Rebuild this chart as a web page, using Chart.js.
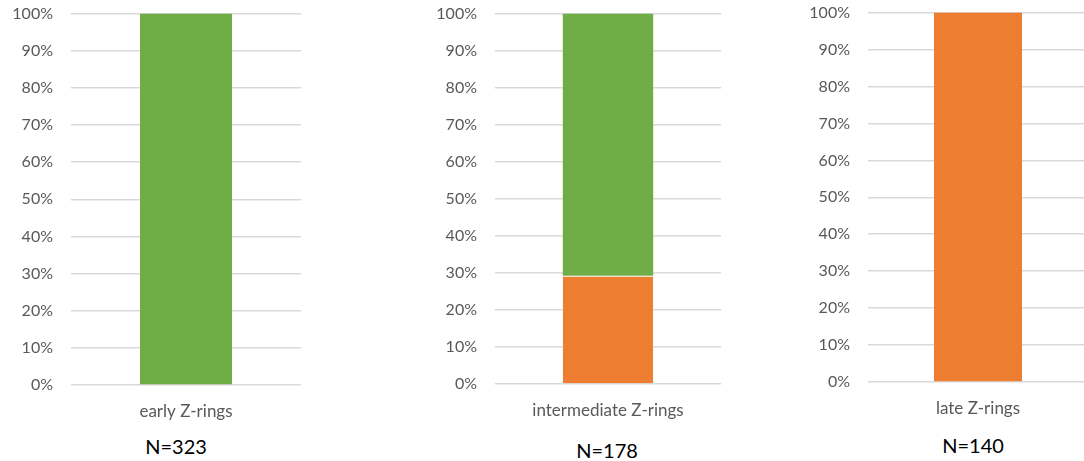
<!DOCTYPE html>
<html>
<head>
<meta charset="utf-8">
<script src="https://cdn.jsdelivr.net/npm/chart.js@4"></script>
<style>
  html, body { margin: 0; padding: 0; background: #fff; overflow: hidden; }
  body { position: relative; width: 1084px; height: 461px; }
  canvas { position: absolute; }
  .n-label {
    position: absolute;
    font-family: Lato, "Open Sans", sans-serif;
    font-size: 20px;
    color: #000;
    transform: translate(-50%, -50%);
    white-space: nowrap;
  }
</style>
</head>
<body>
<canvas id="c0" width="301" height="439" style="left:0px; top:-14px"></canvas>
<canvas id="c1" width="301" height="438" style="left:420px; top:-14px"></canvas>
<canvas id="c2" width="295" height="437" style="left:793px; top:-15px"></canvas>
<div class="n-label" id="n0" style="left:176px; top:446px"></div>
<div class="n-label" id="n1" style="left:607px; top:450px"></div>
<div class="n-label" id="n2" style="left:973px; top:445px"></div>
<script>
// data (percent of Z-rings per stage)
const categories = ["early Z-rings", "intermediate Z-rings", "late Z-rings"];
const orangeShare = [0, 29.2, 100];
const greenShare = [100, 70.8, 0];
const sampleSizes = [323, 178, 140];
const yTickMax = 100;
const yTickStep = 10;

// per-panel layout: y-axis width
const panels = [
  { axisWidth: 71 },
  { axisWidth: 75 },
  { axisWidth: 75 },
];

const fontFamily = "Lato, 'Open Sans', sans-serif";

categories.forEach((cat, i) => {
  const p = panels[i];
  // thin white separator only where green sits on top of orange
  const sepWidth = greenShare[i] > 0 ? 1 : 0;
  new Chart(document.getElementById("c" + i), {
    type: "bar",
    data: {
      labels: [cat],
      datasets: [
        {
          label: "orange",
          data: [orangeShare[i]],
          backgroundColor: "#ED7D31",
          borderColor: "#ffffff",
          borderWidth: { top: sepWidth, left: 0, right: 0, bottom: 0 },
          borderSkipped: "start",
          barPercentage: 0.4,
          categoryPercentage: 1,
        },
        {
          label: "green",
          data: [greenShare[i]],
          backgroundColor: "#70AD47",
          borderWidth: 0,
          barPercentage: 0.4,
          categoryPercentage: 1,
        },
      ],
    },
    options: {
      responsive: false,
      animation: false,
      layout: { padding: 0 },
      plugins: {
        legend: { display: false },
        tooltip: { enabled: false },
      },
      scales: {
        x: {
          stacked: true,
          grid: { display: false, drawTicks: false },
          border: { display: false },
          ticks: {
            padding: 16,
            color: "#595959",
            font: { family: fontFamily, size: 17 },
          },
          afterFit: (scale) => { scale.height = 40; },
        },
        y: {
          stacked: true,
          min: 0,
          max: yTickMax,
          grid: { color: "#d9d9d9", lineWidth: 1.5, drawTicks: false },
          border: { display: false },
          ticks: {
            stepSize: yTickStep,
            padding: 18,
            color: "#595959",
            font: { family: fontFamily, size: 16 },
            callback: (v) => v + "%",
          },
          afterFit: (scale) => { scale.width = p.axisWidth; },
        },
      },
    },
  });
  document.getElementById("n" + i).textContent = "N=" + sampleSizes[i];
});
</script>
</body>
</html>
